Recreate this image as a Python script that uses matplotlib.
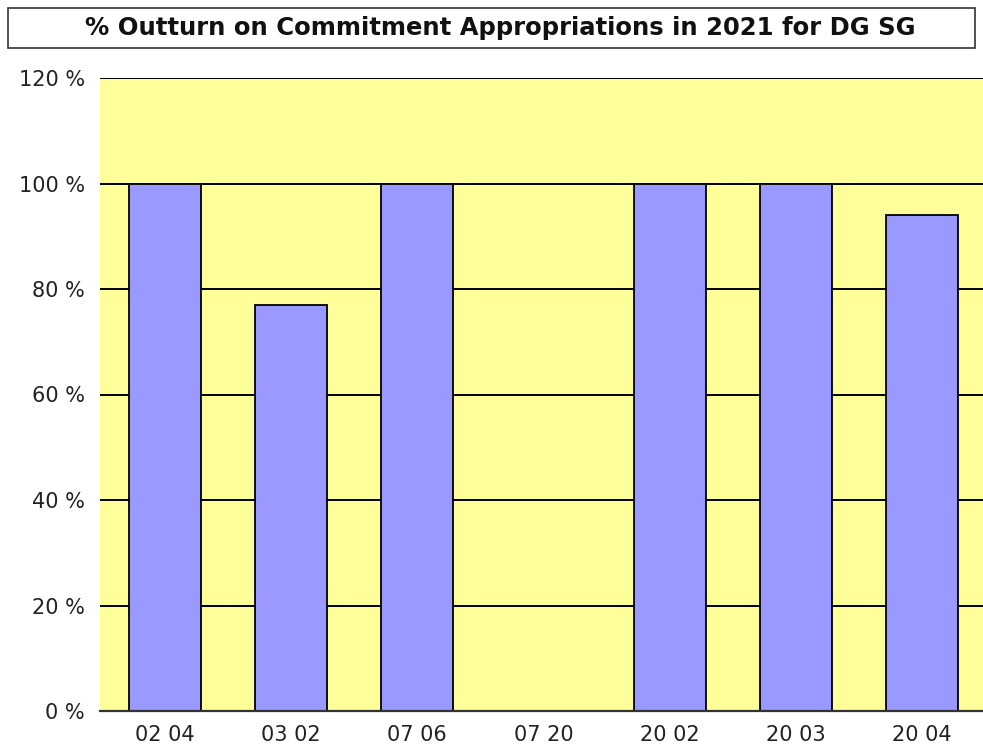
import matplotlib
matplotlib.use('Agg')
import matplotlib.pyplot as plt
from matplotlib.patches import Rectangle

# Chart data
CATEGORIES = ['02 04', '03 02', '07 06', '07 20', '20 02', '20 03', '20 04']
OUTTURN_PCT = [100, 77, 100, 0, 100, 100, 94]
Y_TICKS = [0, 20, 40, 60, 80, 100, 120]

BG_YELLOW = '#FFFF99'
BAR_BLUE = '#9999FF'

W, H = 983, 756
fig = plt.figure(figsize=(W / 100, H / 100), dpi=100)

# Title box
fig.patches.append(Rectangle((8 / W, 1 - 48 / H), 967 / W, 40 / H, transform=fig.transFigure,
                             facecolor='white', edgecolor='#333333', linewidth=1.2))
fig.text(500 / W, 1 - 28 / H, '% Outturn on Commitment Appropriations in 2021 for DG SG',
         ha='center', va='center', fontsize=17.5, fontweight='bold', color='#111111')

ax = fig.add_axes([100 / W, 1 - 711 / H, 885 / W, 633 / H])
ax.set_facecolor(BG_YELLOW)
x = list(range(len(CATEGORIES)))
ax.bar(x, OUTTURN_PCT, width=0.57, color=BAR_BLUE, edgecolor='black', linewidth=1.3, zorder=3)

ax.set_xlim(-0.515, 6.5)
ax.set_ylim(0, 120)
ax.set_yticks(Y_TICKS)
ax.set_yticklabels([f'{v} %' for v in Y_TICKS])
ax.set_xticks(x)
ax.set_xticklabels(CATEGORIES)
ax.tick_params(length=0, labelsize=15, colors='#222222')
ax.tick_params(axis='y', pad=11)
ax.tick_params(axis='x', pad=10)
for v in Y_TICKS[1:]:
    ax.axhline(v, color='black', linewidth=1.4, zorder=1)
for side in ['left', 'right', 'top']:
    ax.spines[side].set_visible(False)
ax.spines['bottom'].set_color('#333333')
ax.spines['bottom'].set_linewidth(1.6)
ax.spines['bottom'].set_zorder(4)

fig.savefig('out.png', dpi=100)
